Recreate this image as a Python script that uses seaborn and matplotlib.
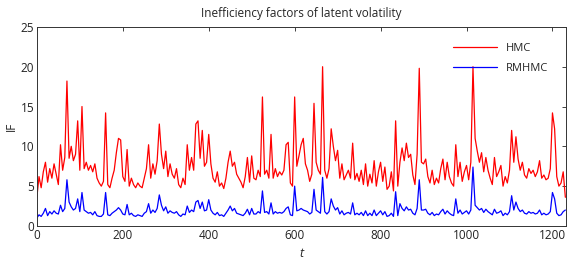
import numpy as np
import pandas as pd
import matplotlib
matplotlib.use("Agg")
import matplotlib.pyplot as plt
import seaborn as sns

t = list(range(0, 1231, 5))

hmc = [
    3.6, 6.2, 4.8, 6.8, 8.0, 5.5, 7.2, 6.0, 7.8, 6.5,
    5.2, 10.2, 7.0, 8.6, 18.2, 8.5, 10.0, 8.2, 9.0, 13.2,
    7.0, 15.0, 7.2, 8.0, 7.0, 7.6, 6.8, 7.8, 6.0, 5.4,
    5.0, 5.6, 14.2, 5.2, 4.8, 6.0, 7.0, 9.2, 11.0, 10.8,
    6.2, 5.6, 9.6, 5.0, 6.0, 5.2, 4.8, 5.4, 5.0, 4.8,
    6.0, 7.2, 10.2, 6.0, 7.8, 6.5, 8.2, 12.8, 9.0, 7.2,
    9.4, 6.2, 7.8, 6.5, 6.0, 7.2, 5.2, 4.8, 6.0, 5.2,
    10.2, 7.0, 8.6, 7.0, 12.8, 13.2, 8.5, 12.0, 7.5, 8.0,
    11.5, 7.8, 6.0, 5.5, 6.8, 5.0, 5.4, 4.7, 6.0, 8.0,
    9.4, 7.5, 8.0, 6.5, 6.0, 5.5, 4.8, 6.2, 8.6, 5.5,
    8.8, 6.0, 5.8, 7.0, 6.2, 16.2, 6.5, 7.0, 6.0, 11.5,
    6.0, 7.2, 6.2, 6.8, 6.4, 7.0, 10.2, 10.5, 5.4, 5.0,
    16.2, 7.5, 8.8, 10.2, 11.0, 7.8, 7.0, 5.6, 6.5, 15.4,
    8.0, 7.0, 6.5, 20.0, 7.0, 6.0, 7.2, 12.2, 10.0, 8.2,
    9.5, 6.0, 7.8, 5.8, 6.4, 7.0, 6.0, 10.4, 5.8, 6.6,
    5.6, 7.0, 5.2, 7.8, 5.0, 6.5, 5.4, 8.2, 5.0, 6.8,
    8.0, 5.6, 7.4, 4.6, 5.0, 6.8, 4.4, 13.2, 5.0, 8.0,
    9.8, 8.2, 10.4, 8.6, 9.0, 6.4, 5.2, 9.0, 19.8, 8.0,
    7.8, 8.4, 6.2, 5.4, 7.0, 5.2, 6.0, 5.4, 7.2, 8.4,
    5.8, 8.0, 6.2, 5.4, 5.0, 10.2, 6.2, 8.0, 5.6, 6.8,
    7.6, 5.8, 8.0, 20.0, 11.0, 9.4, 8.0, 9.2, 6.8, 8.6,
    7.0, 6.0, 5.2, 8.6, 6.2, 6.8, 7.6, 5.0, 6.2, 5.4,
    7.0, 12.0, 8.0, 11.2, 8.4, 7.0, 8.0, 6.4, 6.0, 7.2,
    6.6, 7.0, 6.2, 6.8, 8.2, 6.0, 6.4, 5.8, 6.0, 7.2,
    14.2, 12.2, 6.2, 5.0, 5.4, 6.8, 3.6,
]

rmhmc = [
    1.0, 1.4, 1.2, 1.6, 2.2, 1.3, 1.8, 1.5, 1.9, 1.6,
    1.5, 2.6, 1.8, 2.2, 5.8, 3.0, 2.4, 2.0, 2.2, 3.4,
    1.8, 4.2, 2.0, 1.8, 1.6, 1.7, 1.4, 1.8, 1.3, 1.2,
    1.2, 1.5, 4.2, 1.4, 1.3, 1.6, 1.8, 2.0, 2.3, 2.0,
    1.5, 1.4, 2.7, 1.4, 1.6, 1.3, 1.2, 1.4, 1.3, 1.2,
    1.6, 1.8, 2.8, 1.6, 2.0, 1.7, 2.2, 3.9, 2.6, 1.9,
    2.4, 1.6, 1.9, 1.7, 1.6, 1.8, 1.4, 1.2, 1.5, 1.4,
    2.5, 1.7, 2.0, 1.8, 3.0, 3.2, 2.2, 3.0, 1.9, 2.0,
    3.3, 2.0, 1.6, 1.4, 1.7, 1.3, 1.4, 1.2, 1.6, 2.0,
    2.5, 1.9, 2.2, 1.6, 1.5, 1.4, 1.3, 1.6, 2.1, 1.4,
    2.2, 1.5, 1.5, 1.8, 1.6, 4.4, 1.7, 1.8, 1.5, 2.9,
    1.5, 1.8, 1.6, 1.7, 1.6, 1.8, 2.2, 2.4, 1.4, 1.3,
    5.0, 1.9, 2.0, 2.2, 2.0, 1.9, 1.8, 1.5, 1.7, 4.6,
    2.0, 1.8, 1.6, 6.1, 1.8, 1.5, 1.8, 3.4, 2.5, 2.0,
    2.3, 1.5, 1.9, 1.4, 1.6, 1.7, 1.5, 2.9, 1.4, 1.6,
    1.4, 1.7, 1.3, 1.9, 1.3, 1.6, 1.3, 2.0, 1.3, 1.6,
    1.9, 1.4, 1.8, 1.2, 1.3, 1.6, 1.2, 4.3, 1.3, 2.8,
    2.2, 1.9, 2.4, 2.0, 2.1, 1.6, 1.4, 2.2, 5.8, 2.0,
    2.0, 2.1, 1.6, 1.4, 1.7, 1.3, 1.5, 1.4, 1.8, 2.1,
    1.5, 1.9, 1.6, 1.4, 1.3, 3.4, 1.6, 2.0, 1.5, 1.7,
    1.9, 1.5, 2.0, 7.4, 2.6, 2.3, 2.0, 2.2, 1.7, 2.1,
    1.8, 1.6, 1.4, 2.1, 1.6, 1.7, 1.9, 1.3, 1.6, 1.4,
    1.8, 3.8, 2.0, 3.0, 2.2, 1.8, 2.0, 1.6, 1.5, 1.8,
    1.6, 1.7, 1.5, 1.6, 2.0, 1.4, 1.6, 1.4, 1.5, 1.8,
    4.2, 3.4, 1.6, 1.3, 1.4, 1.8, 2.0,
]

series_names = ["HMC", "RMHMC"]
series_colors = ["#ff0000", "#0000ff"]
x_ticks = [0, 200, 400, 600, 800, 1000, 1200]
y_ticks = [0, 5, 10, 15, 20, 25]

df = pd.DataFrame({
    "t": t * 2,
    "IF": hmc + rmhmc,
    "method": [series_names[0]] * len(t) + [series_names[1]] * len(t),
})

sns.set_style("white")
plt.rcParams["font.family"] = ["Open Sans", "DejaVu Sans"]

fig = plt.figure(figsize=(5.76, 2.69), dpi=100)
ax = fig.add_axes([0.064, 0.16, 0.919, 0.74])

sns.lineplot(data=df, x="t", y="IF", hue="method", palette=series_colors,
             linewidth=0.9, ax=ax, legend=True)

ax.set_xlim(0, 1232)
ax.set_ylim(0, 25)
ax.set_xticks(x_ticks)
ax.set_yticks(y_ticks)
ax.tick_params(direction="in", top=True, right=True, length=3, width=0.6,
               labelsize=8.5, colors="#222222", pad=2)
for s in ax.spines.values():
    s.set_visible(True)
    s.set_color("#333333")
    s.set_linewidth(0.7)

ax.set_xlabel("t", fontsize=9, style="italic", labelpad=4)
ax.set_ylabel("IF", fontsize=8.5, labelpad=2)
ax.set_title("Inefficiency factors of latent volatility", fontsize=8.5, pad=7)

leg = ax.legend(loc="upper right", frameon=False, fontsize=8,
                handlelength=4.0, bbox_to_anchor=(0.985, 0.97),
                labelspacing=0.8)

fig.savefig("out.png", dpi=100)
